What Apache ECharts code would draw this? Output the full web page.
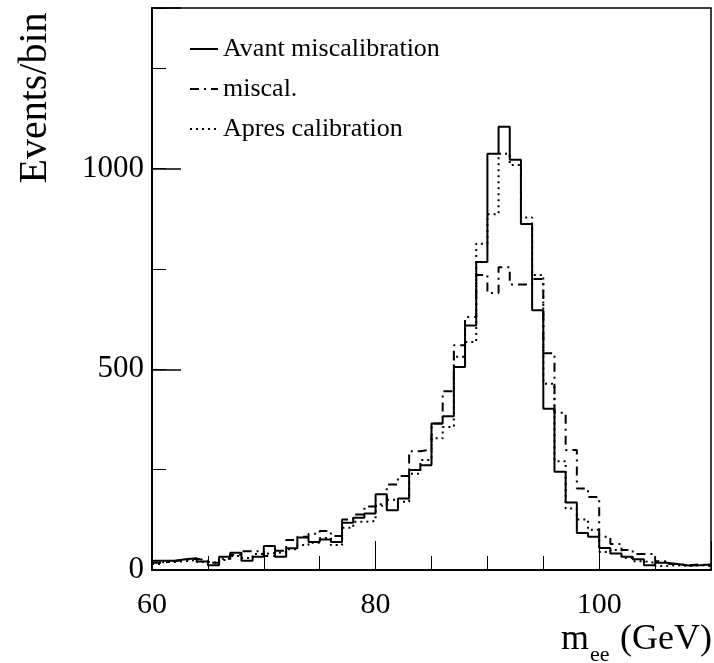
<!DOCTYPE html>
<html>
<head>
<meta charset="utf-8">
<script src="https://cdn.jsdelivr.net/npm/echarts@6/dist/echarts.min.js"></script>
<style>html,body{margin:0;padding:0;background:#fff}#c{width:714px;height:663px}</style>
</head>
<body>
<div id="c"></div>
<script>
// bin lower edges (GeV), 1 GeV bins
var binEdges = [60,61,62,63,64,65,66,67,68,69,70,71,72,73,74,75,76,77,78,79,80,81,82,83,84,85,86,87,88,89,90,91,92,93,94,95,96,97,98,99,100,101,102,103,104,105,106,107,108,109];
var lastEdge = 110;
var avant = [23,23,27,29,21,12,33,43,23,33, 60,33,54,81,70,76,70,118,130,141, 189,149,178,249,261,365,383,506,609,767, 1037,1104,1022,862,647,402,245,168,92,83, 55,41,33,27,12,18,15,11,12,14];
var miscal = [18,22,25,28,24,18,25,38,47,46, 35,48,75,83,90,97,85,126,138,158, 164,213,234,296,300,365,445,560,630,735, 690,754,711,711,725,540,392,299,203,182, 83,65,50,40,40,22,15,12,14,12];
var apres = [15,20,22,25,20,18,28,35,30,40, 42,45,52,62,68,80,62,105,120,122, 160,175,170,240,274,328,356,531,568,813, 886,1037,1009,878,735,464,271,153,126,100, 45,50,30,22,18,10,12,10,12,10];
var yMajorLabels = [0, 500, 1000];
var xMajorLabels = [60, 80, 100];
var names = ['Avant miscalibration', 'miscal.', 'Apres calibration'];

function steps(vals) {
  var d = [];
  for (var i = 0; i < binEdges.length; i++) d.push([binEdges[i], vals[i]]);
  d.push([lastEdge, vals[vals.length - 1]]);
  return d;
}
var FONT = 'Liberation Serif';
var chart = echarts.init(document.getElementById('c'), null, {renderer: 'canvas'});
var gridCfg = {left: 152, right: 2, top: 8, bottom: 93, show: true, borderColor: '#000', borderWidth: 1.5, backgroundColor: 'transparent'};
function mkSeries(name, vals, type) {
  return {
    name: name, type: 'line', step: 'end', symbol: 'none', data: steps(vals),
    lineStyle: {color: '#000', width: 2, type: type}, itemStyle: {color: '#000'},
    silent: true, animation: false
  };
}
chart.setOption({
  animation: false,
  grid: gridCfg,
  legend: {
    orient: 'vertical', left: 184, top: 31, itemWidth: 28, itemHeight: 14, itemGap: 14,
    data: names,
    itemStyle: {opacity: 0, color: 'transparent', borderWidth: 0},
    textStyle: {fontFamily: FONT, fontSize: 26, color: '#000'},
    inactiveColor: '#000', selectedMode: false
  },
  xAxis: [{
    type: 'value', min: 60, max: 110, interval: 5,
    axisLine: {lineStyle: {color: '#000', width: 2}},
    axisTick: {inside: true, length: 14, lineStyle: {color: '#000', width: 1}},
    axisLabel: {fontFamily: FONT, fontSize: 30, color: '#000', margin: 20,
      formatter: function (v) { return xMajorLabels.indexOf(v) >= 0 ? String(v) : ''; }},
    splitLine: {show: false}
  }, {
    type: 'value', min: 60, max: 110, interval: 20, position: 'bottom',
    axisLine: {show: false},
    axisTick: {inside: true, length: 29, lineStyle: {color: '#000', width: 1}},
    axisLabel: {show: false}, splitLine: {show: false}
  }],
  yAxis: [{
    type: 'value', min: 0, max: 1400, interval: 250,
    axisLine: {show: true, lineStyle: {color: '#000', width: 2}},
    axisTick: {show: true, inside: true, length: 14, lineStyle: {color: '#000', width: 1}},
    axisLabel: {fontFamily: FONT, fontSize: 31, color: '#000', margin: 8,
      formatter: function (v) { return yMajorLabels.indexOf(v) >= 0 ? String(v) : ''; }},
    splitLine: {show: false}
  }, {
    type: 'value', min: 0, max: 1400, interval: 500, position: 'left',
    axisLine: {show: false},
    axisTick: {show: true, inside: true, length: 29, lineStyle: {color: '#000', width: 1.5}},
    axisLabel: {show: false}, splitLine: {show: false}
  }],
  series: [
    mkSeries(names[0], avant, 'solid'),
    mkSeries(names[1], miscal, [9, 5, 2, 5]),
    mkSeries(names[2], apres, [2, 4])
  ],
  graphic: [
    {type: 'text', x: 35, y: 98, rotation: Math.PI / 2,
     style: {text: 'Events/bin', font: '40px "Liberation Serif"', fill: '#000', textAlign: 'center', textVerticalAlign: 'middle'}},
    {type: 'text', x: 561, y: 640,
     style: {text: 'm', font: '36px "Liberation Serif"', fill: '#000', textAlign: 'left', textVerticalAlign: 'middle'}},
    {type: 'text', x: 590, y: 655,
     style: {text: 'ee', font: '22px "Liberation Serif"', fill: '#000', textAlign: 'left', textVerticalAlign: 'middle'}},
    {type: 'text', x: 712, y: 640,
     style: {text: '(GeV)', font: '36px "Liberation Serif"', fill: '#000', textAlign: 'right', textVerticalAlign: 'middle'}}
  ]
});
</script>
</body>
</html>
